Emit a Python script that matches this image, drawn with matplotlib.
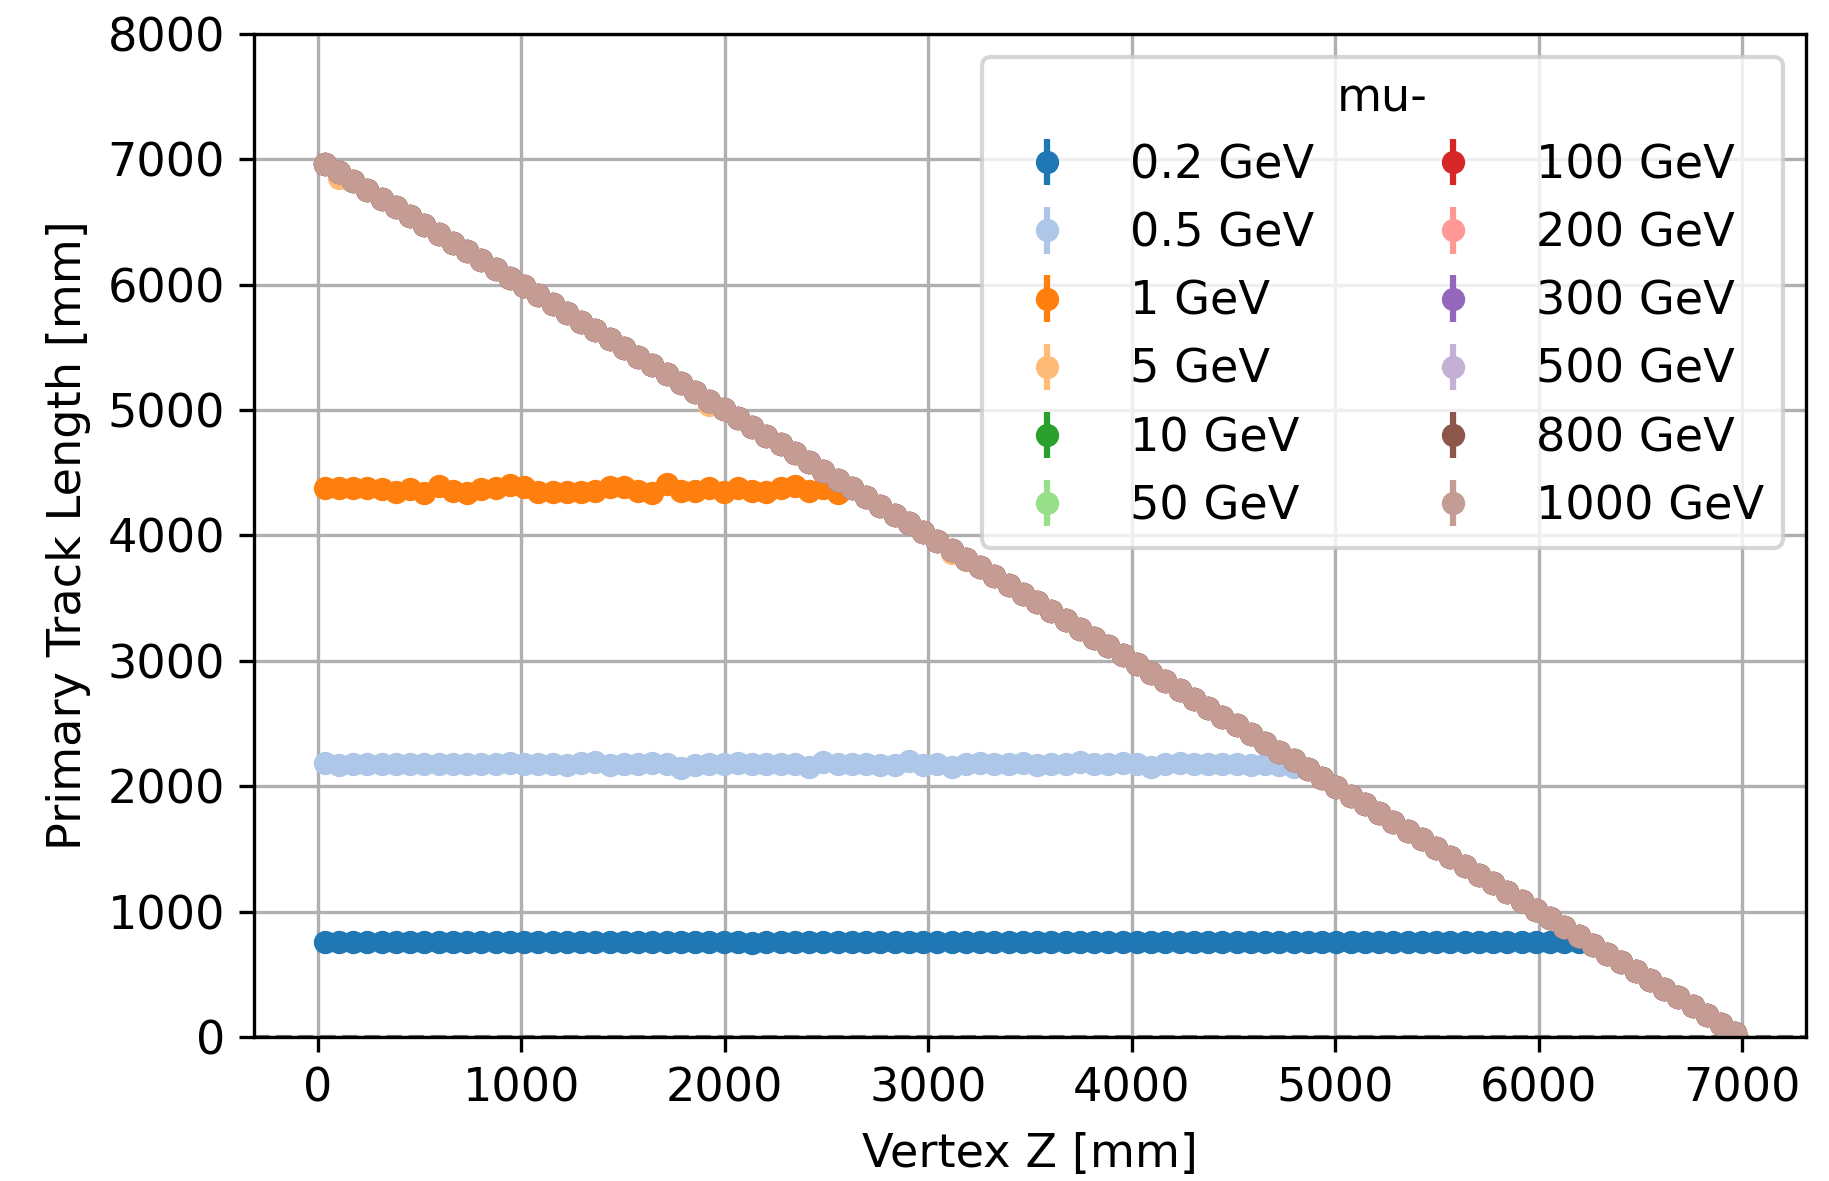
import matplotlib
matplotlib.use("Agg")
import matplotlib.pyplot as plt

# ---------------- data ----------------
vertex_z = [35, 105, 175, 245, 315, 385, 455, 525, 595, 665,
            735, 805, 875, 945, 1015, 1085, 1155, 1225, 1295, 1365,
            1435, 1505, 1575, 1645, 1715, 1785, 1855, 1925, 1995, 2065,
            2135, 2205, 2275, 2345, 2415, 2485, 2555, 2625, 2695, 2765,
            2835, 2905, 2975, 3045, 3115, 3185, 3255, 3325, 3395, 3465,
            3535, 3605, 3675, 3745, 3815, 3885, 3955, 4025, 4095, 4165,
            4235, 4305, 4375, 4445, 4515, 4585, 4655, 4725, 4795, 4865,
            4935, 5005, 5075, 5145, 5215, 5285, 5355, 5425, 5495, 5565,
            5635, 5705, 5775, 5845, 5915, 5985, 6055, 6125, 6195, 6265,
            6335, 6405, 6475, 6545, 6615, 6685, 6755, 6825, 6895, 6965]

# track length of muons that cross the full remaining detector depth
diag_len = [6965, 6895, 6825, 6755, 6685, 6615, 6545, 6475, 6405, 6335,
            6265, 6195, 6125, 6055, 5985, 5915, 5845, 5775, 5705, 5635,
            5565, 5495, 5425, 5355, 5285, 5215, 5145, 5075, 5005, 4935,
            4865, 4795, 4725, 4655, 4585, 4515, 4445, 4375, 4305, 4235,
            4165, 4095, 4025, 3955, 3885, 3815, 3745, 3675, 3605, 3535,
            3465, 3395, 3325, 3255, 3185, 3115, 3045, 2975, 2905, 2835,
            2765, 2695, 2625, 2555, 2485, 2415, 2345, 2275, 2205, 2135,
            2065, 1995, 1925, 1855, 1785, 1715, 1645, 1575, 1505, 1435,
            1365, 1295, 1225, 1155, 1085, 1015, 945, 875, 805, 735,
            665, 595, 525, 455, 385, 315, 245, 175, 105, 35]

len_0p2 = [757, 757, 756, 757, 757, 758, 757, 756, 757, 757,
           757, 756, 757, 757, 757, 755, 757, 757, 756, 757,
           757, 757, 757, 757, 756, 757, 757, 757, 757, 757,
           752, 757, 757, 757, 757, 757, 757, 756, 757, 757,
           757, 757, 757, 757, 757, 757, 757, 757, 757, 757,
           757, 756, 757, 757, 757, 757, 757, 757, 757, 757,
           757, 757, 757, 757, 757, 757, 757, 757, 757, 757,
           757, 757, 757, 757, 757, 757, 757, 757, 757, 757,
           757, 757, 757, 757, 757, 757, 757, 757, 757] + diag_len[89:]

len_0p5 = [2185, 2167, 2180, 2180, 2180, 2175, 2175, 2180, 2175, 2180,
           2175, 2175, 2180, 2185, 2175, 2175, 2180, 2167, 2185, 2193,
           2167, 2175, 2180, 2185, 2180, 2148, 2167, 2175, 2180, 2185,
           2180, 2175, 2175, 2175, 2154, 2193, 2175, 2175, 2180, 2167,
           2167, 2201, 2167, 2175, 2154, 2180, 2185, 2175, 2180, 2185,
           2167, 2175, 2175, 2193, 2180, 2175, 2185, 2175, 2154, 2175,
           2185, 2175, 2175, 2175, 2175, 2167, 2175, 2167, 2154] + diag_len[69:]

len_1 = [4379, 4374, 4374, 4381, 4366, 4342, 4366, 4334, 4392, 4355,
         4334, 4366, 4381, 4400, 4387, 4347, 4347, 4347, 4342, 4350,
         4387, 4387, 4355, 4334, 4408, 4355, 4355, 4381, 4342, 4381,
         4355, 4342, 4374, 4392, 4355, 4374, 4334] + diag_len[37:]

len_5 = ([6965, 6850] + diag_len[2:27] + [5040] + diag_len[28:44]
         + [3860, 3800] + diag_len[46:])

energies = ["0.2 GeV", "0.5 GeV", "1 GeV", "5 GeV", "10 GeV", "50 GeV",
            "100 GeV", "200 GeV", "300 GeV", "500 GeV", "800 GeV", "1000 GeV"]
series = [len_0p2, len_0p5, len_1, len_5, diag_len, diag_len,
          diag_len, diag_len, diag_len, diag_len, diag_len, diag_len]
colors = ['#1f77b4', '#aec7e8', '#ff7f0e', '#ffbb78', '#2ca02c', '#98df8a',
          '#d62728', '#ff9896', '#9467bd', '#c5b0d5', '#8c564b', '#c49c94']
yerr_mm = 8

# ---------------- plot ----------------
W, H, DPI = 1829, 1181, 300
fig = plt.figure(figsize=(W / DPI, H / DPI), dpi=DPI)
ax = fig.add_axes([0.139, 0.122, 0.8483, 0.8494])
fs = 11.1

for lab, y, c in zip(energies, series, colors):
    ax.errorbar(vertex_z, y, yerr=yerr_mm, fmt='o', color=c, ms=4.6,
                lw=1.5, label=lab)

ax.axhline(0, color='gray', ls='--', lw=1.0)
ax.set_xlim(-311.5, 7311.5)
ax.set_ylim(0, 8000)
ax.set_xticks(range(0, 7001, 1000))
ax.set_yticks(range(0, 8001, 1000))
ax.grid(True)
ax.set_axisbelow(True)
ax.tick_params(labelsize=fs)
ax.set_xlabel("Vertex Z [mm]", fontsize=fs, labelpad=5)
ax.set_ylabel("Primary Track Length [mm]", fontsize=fs, labelpad=4)
leg = ax.legend(title="mu-", ncol=2, loc='upper right', fontsize=fs,
                title_fontsize=fs)

fig.savefig("out.png", dpi=DPI)
